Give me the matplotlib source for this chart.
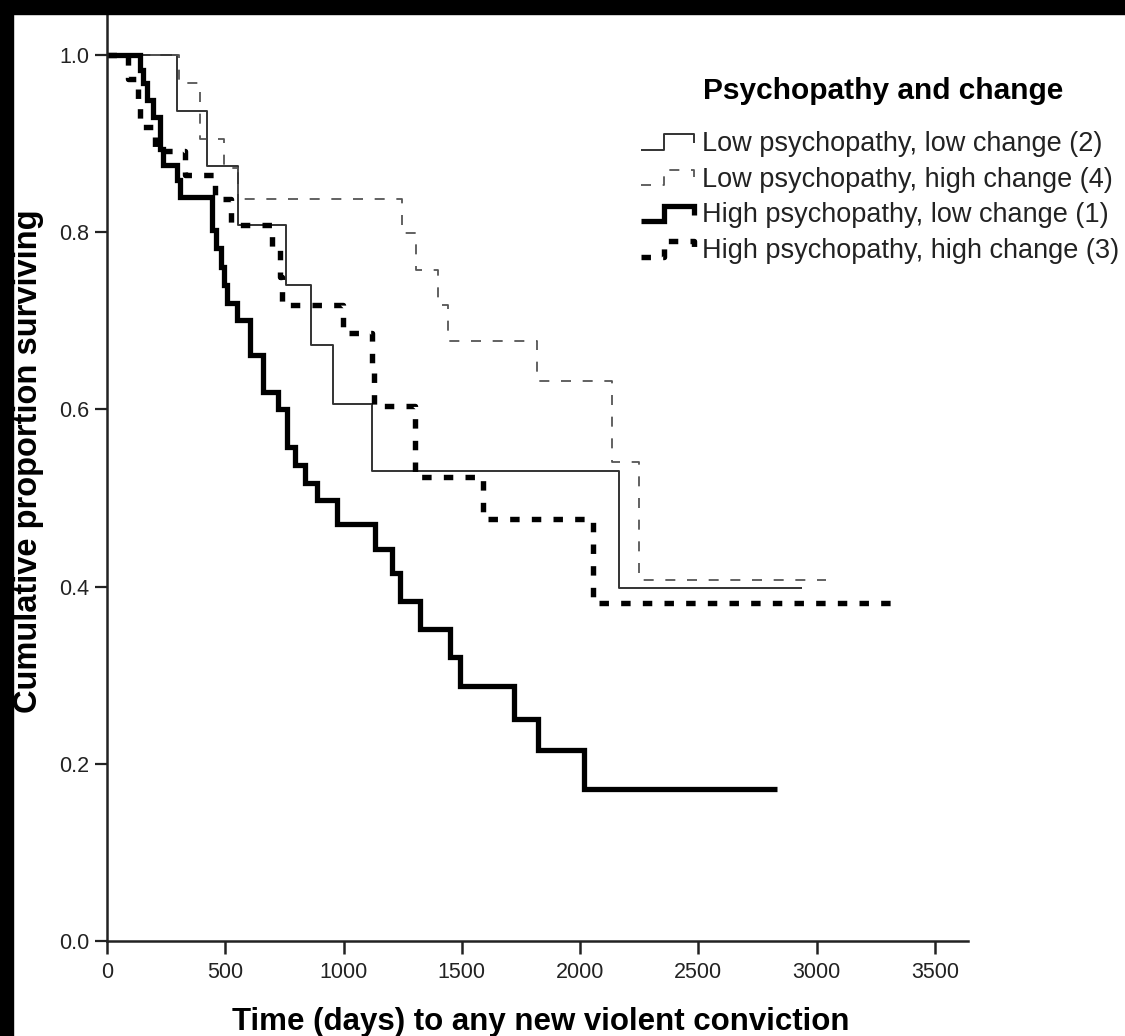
import numpy as np
import matplotlib
matplotlib.use("Agg")
from matplotlib import pyplot as plt
from matplotlib.legend_handler import HandlerBase
from matplotlib.lines import Line2D
from matplotlib.patches import Rectangle

plt.rcParams["font.family"] = ["Liberation Sans", "DejaVu Sans"]
plt.rcParams["lines.scale_dashes"] = False

# Kaplan-Meier steps (days, proportion surviving)
ll_days = [0, 296, 424, 555, 757, 861, 957, 1119, 2163, 2940]
ll_surv = [1.0, 0.937, 0.875, 0.808, 0.740, 0.673, 0.606, 0.530, 0.398, 0.398]

lh_days = [0, 305, 393, 495, 555, 1246, 1307, 1398, 1443, 1817, 2137, 2248, 3040]
lh_surv = [1.0, 0.968, 0.905, 0.872, 0.837, 0.799, 0.757, 0.718, 0.677, 0.632,
           0.541, 0.407, 0.407]

hl_days = [0, 140, 154, 168, 195, 224, 238, 295, 309, 443, 462, 480, 495, 506,
           548, 605, 661, 724, 760, 795, 837, 887, 971, 1133, 1205, 1237, 1325,
           1452, 1492, 1722, 1820, 2017, 2834]
hl_surv = [1.0, 0.983, 0.968, 0.949, 0.930, 0.894, 0.876, 0.859, 0.840, 0.803,
           0.782, 0.761, 0.740, 0.720, 0.701, 0.661, 0.620, 0.601, 0.558, 0.537,
           0.517, 0.498, 0.471, 0.443, 0.415, 0.384, 0.352, 0.320, 0.288, 0.251,
           0.216, 0.172, 0.172]

hh_days = [0, 89, 131, 140, 203, 330, 455, 524, 696, 731, 738, 998, 1119, 1130,
           1302, 1589, 2054, 3314]
hh_surv = [1.0, 0.973, 0.946, 0.919, 0.892, 0.865, 0.838, 0.808, 0.780, 0.750,
           0.718, 0.686, 0.645, 0.604, 0.524, 0.476, 0.382, 0.382]

labels = [
    "Low psychopathy, low change (2)",
    "Low psychopathy, high change (4)",
    "High psychopathy, low change (1)",
    "High psychopathy, high change (3)",
]
x_ticks = [0, 500, 1000, 1500, 2000, 2500, 3000, 3500]
y_ticks = [0.0, 0.2, 0.4, 0.6, 0.8, 1.0]


class StepHandler(HandlerBase):
    # little step glyph like the SPSS legend
    def create_artists(self, legend, orig_handle, xdescent, ydescent,
                       width, height, fontsize, trans):
        xs = np.array([0.0, 0.42, 0.42, 0.97, 0.97]) * width - xdescent
        ys = np.array([0.0, 0.0, 0.95, 0.95, 0.4]) * height - ydescent
        line = Line2D(xs, ys)
        line.update_from(orig_handle)
        line.set_transform(trans)
        return [line]


W, H = 1125, 1036
fig = plt.figure(figsize=(W / 100, H / 100), dpi=100)
fig.patch.set_facecolor("white")

# axes: x=0 at px 107, y=0 at px 941, y=1 at px 55
ax = fig.add_axes([107 / W, (H - 941) / H, (968 - 107) / W, (941 - 14) / H])
ax.set_xlim(0, 3640)
ax.set_ylim(0, (941 - 14) / 886)

ax.step(ll_days, ll_surv, where="post", color="#333333", lw=1.4,
        solid_capstyle="butt")
ax.step(lh_days, lh_surv, where="post", color="#555555", lw=1.3,
        linestyle=(0, (7.2, 8.4)), dash_capstyle="butt")
ax.step(hl_days, hl_surv, where="post", color="black", lw=3.8,
        solid_capstyle="butt", solid_joinstyle="miter")
ax.step(hh_days, hh_surv, where="post", color="black", lw=3.9,
        linestyle=(0, (6.8, 8.8)), dash_capstyle="butt")

for side in ("top", "right"):
    ax.spines[side].set_visible(False)
for side in ("left", "bottom"):
    ax.spines[side].set_linewidth(1.8)
    ax.spines[side].set_color("#222222")

ax.set_xticks(x_ticks)
ax.set_yticks(y_ticks)
ax.set_yticklabels([f"{v:.1f}" for v in y_ticks])
ax.tick_params(axis="x", direction="out", length=9, width=1.8, pad=6,
               labelsize=15.5, colors="#222222")
ax.tick_params(axis="y", direction="out", length=9, width=1.6, pad=4,
               labelsize=15.5, colors="#222222")

fig.text(541 / W, (H - 1030) / H, "Time (days) to any new violent conviction",
         ha="center", va="baseline", fontsize=22.5, fontweight="bold")
fig.text(29 / W, (H - 461) / H, "Cumulative proportion surviving",
         ha="center", va="center", rotation=90, fontsize=23.5, fontweight="bold")

fig.text(883 / W, (H - 91) / H, "Psychopathy and change", ha="center",
         va="center", fontsize=21.5, fontweight="bold")
leg = ax.legend(ax.get_lines(), labels, handler_map={Line2D: StepHandler()},
                loc="upper left", bbox_to_anchor=(641 / W, 1 - 131 / H),
                bbox_transform=fig.transFigure, frameon=False, fontsize=19.5,
                handlelength=2.0, handleheight=0.55, handletextpad=0.25,
                labelspacing=0.36, borderpad=0, borderaxespad=0)
for t in leg.get_texts():
    t.set_color("#222222")

# black frame strips at top and left of the scan
fig.add_artist(Rectangle((0, (H - 14) / H), 1, 14 / H, transform=fig.transFigure,
                         color="black", zorder=10))
fig.add_artist(Rectangle((0, 0), 13 / W, 1, transform=fig.transFigure,
                         color="black", zorder=10))

fig.savefig("out.png", dpi=100)
